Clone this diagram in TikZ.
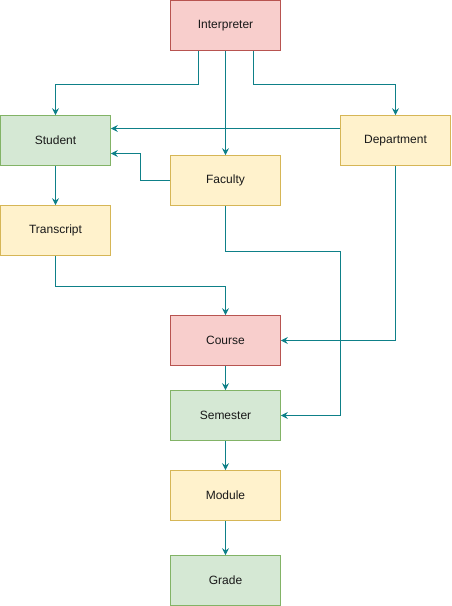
\documentclass[tikz,border=0pt]{standalone}
\usepackage{fontspec}
\setmainfont{Liberation Sans}
\usetikzlibrary{arrows.meta}
\definecolor{redfill}{HTML}{F8CECC}
\definecolor{redline}{HTML}{B85450}
\definecolor{greenfill}{HTML}{D5E8D4}
\definecolor{greenline}{HTML}{82B366}
\definecolor{yellowfill}{HTML}{FFF2CC}
\definecolor{yellowline}{HTML}{D6B656}
\definecolor{teal}{HTML}{0E8088}
\tikzset{
    box/.style={draw, line width=0.75pt, minimum width=110pt, minimum height=50pt, inner sep=0pt, text=black!90, font=\fontsize{12}{14}\selectfont},
    redbox/.style={box, fill=redfill, draw=redline},
    greenbox/.style={box, fill=greenfill, draw=greenline},
    yellowbox/.style={box, fill=yellowfill, draw=yellowline},
    link/.style={draw=teal, line width=0.75pt, -{Stealth[length=7pt, width=7pt, inset=2.5pt]}}
}
\begin{document}
\begin{tikzpicture}[x=1pt, y=-1pt]
    \pgfmathsetmacro{\mid}{225};
    \pgfmathsetmacro{\lft}{55};
    \pgfmathsetmacro{\rgt}{395};
    \useasboundingbox (-0.5, -0.5) rectangle (450.5, 605.5);
    \node[redbox] (interp) at (\mid, 25) {Interpreter};
    \node[greenbox] (student) at (\lft, 140) {Student};
    \node[yellowbox] (dept) at (\rgt, 140) {Department};
    \node[yellowbox] (faculty) at (\mid, 180) {Faculty};
    \node[yellowbox] (transcript) at (\lft, 230) {Transcript};
    \node[redbox] (course) at (\mid, 340) {Course};
    \node[greenbox] (semester) at (\mid, 415) {Semester};
    \node[yellowbox] (module) at (\mid, 495) {Module};
    \node[greenbox] (grade) at (\mid, 580) {Grade};
    \draw[link] ([xshift=-27.5pt]interp.south) -- ++(0, 33) -| (student.north);
    \draw[link] (interp) -- (faculty);
    \draw[link] ([xshift=27.5pt]interp.south) -- ++(0, 33) -| (dept.north);
    \draw[link] ([yshift=12pt]dept.west) -- ([yshift=12pt]student.east);
    \draw[link] (faculty.west) -- ++(-30, 0) |- ([yshift=-13pt]student.east);
    \draw[link] (student) -- (transcript);
    \draw[link] (transcript.south) -- ++(0, 30) -| (course.north);
    \draw[link] (dept.south) |- (course.east);
    \draw[link] (faculty.south) -- ++(0, 45) -- ++(115, 0) |- (semester.east);
    \draw[link] (course) -- (semester);
    \draw[link] (semester) -- (module);
    \draw[link] (module) -- (grade);
\end{tikzpicture}
\end{document}
